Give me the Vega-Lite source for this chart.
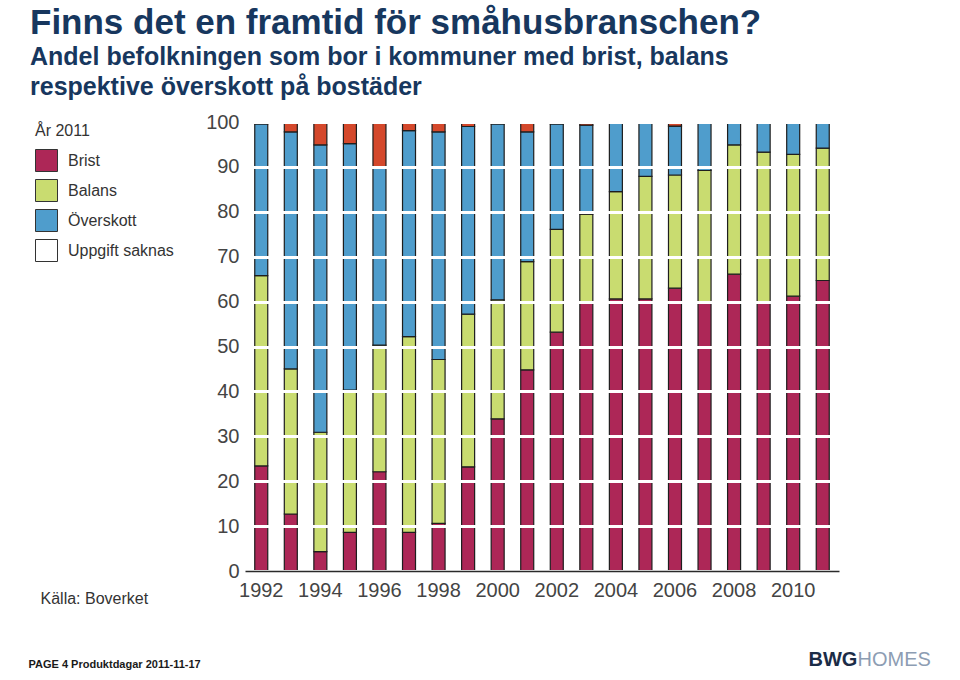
{
  "$schema": "https://vega.github.io/schema/vega-lite/v6.json",
  "autosize": {"type": "none"},
  "width": 594,
  "height": 449,
  "padding": {"left": 245, "top": 122, "right": 121, "bottom": 109},
  "background": "white",
  "config": {
    "font": "Liberation Sans",
    "view": {"stroke": null}
  },
  "title": {
    "text": "Finns det en framtid för småhusbranschen?",
    "subtitle": ["Andel befolkningen som bor i kommuner med brist, balans", "respektive överskott på bostäder"],
    "anchor": "start",
    "frame": "group",
    "dx": -215,
    "offset": 12,
    "font": "Liberation Sans",
    "fontSize": 35,
    "fontWeight": "bold",
    "color": "#17375e",
    "subtitleFont": "Liberation Sans",
    "subtitleFontSize": 25,
    "subtitleFontWeight": "bold",
    "subtitleColor": "#17375e",
    "subtitleLineHeight": 30,
    "subtitlePadding": 4
  },
  "data": {
    "values": [
      {"year": 1992, "kat": "Brist", "v": 23.4}, {"year": 1992, "kat": "Balans", "v": 42.4}, {"year": 1992, "kat": "Överskott", "v": 33.8}, {"year": 1992, "kat": "Övrigt", "v": 0.4},
      {"year": 1993, "kat": "Brist", "v": 12.7}, {"year": 1993, "kat": "Balans", "v": 32.3}, {"year": 1993, "kat": "Överskott", "v": 52.8}, {"year": 1993, "kat": "Övrigt", "v": 2.2},
      {"year": 1994, "kat": "Brist", "v": 4.3}, {"year": 1994, "kat": "Balans", "v": 26.6}, {"year": 1994, "kat": "Överskott", "v": 64.0}, {"year": 1994, "kat": "Övrigt", "v": 5.1},
      {"year": 1995, "kat": "Brist", "v": 8.6}, {"year": 1995, "kat": "Balans", "v": 31.7}, {"year": 1995, "kat": "Överskott", "v": 54.9}, {"year": 1995, "kat": "Övrigt", "v": 4.8},
      {"year": 1996, "kat": "Brist", "v": 22.1}, {"year": 1996, "kat": "Balans", "v": 28.2}, {"year": 1996, "kat": "Överskott", "v": 39.4}, {"year": 1996, "kat": "Övrigt", "v": 10.3},
      {"year": 1997, "kat": "Brist", "v": 8.6}, {"year": 1997, "kat": "Balans", "v": 43.6}, {"year": 1997, "kat": "Överskott", "v": 45.9}, {"year": 1997, "kat": "Övrigt", "v": 1.9},
      {"year": 1998, "kat": "Brist", "v": 10.6}, {"year": 1998, "kat": "Balans", "v": 36.5}, {"year": 1998, "kat": "Överskott", "v": 50.7}, {"year": 1998, "kat": "Övrigt", "v": 2.2},
      {"year": 1999, "kat": "Brist", "v": 23.2}, {"year": 1999, "kat": "Balans", "v": 34.0}, {"year": 1999, "kat": "Överskott", "v": 41.8}, {"year": 1999, "kat": "Övrigt", "v": 1.0},
      {"year": 2000, "kat": "Brist", "v": 33.9}, {"year": 2000, "kat": "Balans", "v": 26.5}, {"year": 2000, "kat": "Överskott", "v": 39.2}, {"year": 2000, "kat": "Övrigt", "v": 0.4},
      {"year": 2001, "kat": "Brist", "v": 44.8}, {"year": 2001, "kat": "Balans", "v": 24.1}, {"year": 2001, "kat": "Överskott", "v": 28.9}, {"year": 2001, "kat": "Övrigt", "v": 2.2},
      {"year": 2002, "kat": "Brist", "v": 53.2}, {"year": 2002, "kat": "Balans", "v": 22.9}, {"year": 2002, "kat": "Överskott", "v": 23.5}, {"year": 2002, "kat": "Övrigt", "v": 0.4},
      {"year": 2003, "kat": "Brist", "v": 59.8}, {"year": 2003, "kat": "Balans", "v": 19.7}, {"year": 2003, "kat": "Överskott", "v": 19.8}, {"year": 2003, "kat": "Övrigt", "v": 0.7},
      {"year": 2004, "kat": "Brist", "v": 60.6}, {"year": 2004, "kat": "Balans", "v": 23.9}, {"year": 2004, "kat": "Överskott", "v": 15.5},
      {"year": 2005, "kat": "Brist", "v": 60.6}, {"year": 2005, "kat": "Balans", "v": 27.3}, {"year": 2005, "kat": "Överskott", "v": 12.1},
      {"year": 2006, "kat": "Brist", "v": 63.0}, {"year": 2006, "kat": "Balans", "v": 25.2}, {"year": 2006, "kat": "Överskott", "v": 10.9}, {"year": 2006, "kat": "Övrigt", "v": 0.9},
      {"year": 2007, "kat": "Brist", "v": 59.9}, {"year": 2007, "kat": "Balans", "v": 29.3}, {"year": 2007, "kat": "Överskott", "v": 10.8},
      {"year": 2008, "kat": "Brist", "v": 66.1}, {"year": 2008, "kat": "Balans", "v": 28.8}, {"year": 2008, "kat": "Överskott", "v": 5.1},
      {"year": 2009, "kat": "Brist", "v": 60.0}, {"year": 2009, "kat": "Balans", "v": 33.3}, {"year": 2009, "kat": "Överskott", "v": 6.7},
      {"year": 2010, "kat": "Brist", "v": 61.2}, {"year": 2010, "kat": "Balans", "v": 31.6}, {"year": 2010, "kat": "Överskott", "v": 7.2},
      {"year": 2011, "kat": "Brist", "v": 64.7}, {"year": 2011, "kat": "Balans", "v": 29.5}, {"year": 2011, "kat": "Överskott", "v": 5.8}
    ]
  },
  "layer": [
    {
      "transform": [
        {"calculate": "indexof(['Brist','Balans','Överskott','Uppgift saknas','Övrigt'], datum.kat)", "as": "ord"}
      ],
      "mark": {"type": "bar", "stroke": "#1e1e1e", "strokeWidth": 1.2},
      "encoding": {
        "x": {
          "field": "year",
          "type": "ordinal",
          "scale": {"paddingInner": 0.56, "paddingOuter": 0.33},
          "axis": {
            "values": [1992, 1994, 1996, 1998, 2000, 2002, 2004, 2006, 2008, 2010],
            "labelAngle": 0,
            "labelFontSize": 20,
            "labelColor": "#444444",
            "labelPadding": 9,
            "ticks": false,
            "domainColor": "#2a2a2a",
            "domainWidth": 1.6,
            "zindex": 2,
            "title": "Källa: Boverket",
            "titleFontSize": 16,
            "titleFontWeight": "normal",
            "titleColor": "#333333",
            "titleAnchor": "start",
            "titleAlign": "left",
            "titleBaseline": "middle",
            "titleX": -205,
            "titleY": 27
          }
        },
        "y": {
          "field": "v",
          "type": "quantitative",
          "stack": "zero",
          "scale": {"domain": [0, 100], "nice": false},
          "axis": {
            "values": [0, 10, 20, 30, 40, 50, 60, 70, 80, 90, 100],
            "labelFontSize": 20,
            "labelColor": "#444444",
            "labelPadding": 6,
            "ticks": false,
            "domain": false,
            "grid": true,
            "gridColor": "white",
            "gridWidth": 3,
            "zindex": 1,
            "title": "PAGE 4  Produktdagar 2011-11-17",
            "titleAngle": 0,
            "titleFontSize": 11,
            "titleFontWeight": "bold",
            "titleColor": "#1a1a1a",
            "titleAlign": "left",
            "titleBaseline": "middle",
            "titleAnchor": "start",
            "titleX": -217,
            "titleY": 542
          }
        },
        "color": {
          "field": "kat",
          "type": "nominal",
          "scale": {
            "domain": ["Brist", "Balans", "Överskott", "Uppgift saknas", "Övrigt"],
            "range": ["#ad2757", "#c9dc70", "#4f9dcc", "#ffffff", "#d4482b"]
          },
          "legend": {
            "values": ["Brist", "Balans", "Överskott", "Uppgift saknas"],
            "title": "År 2011",
            "orient": "none",
            "legendX": -210,
            "legendY": 1,
            "titleFontSize": 16,
            "titleFontWeight": "normal",
            "titleColor": "#333333",
            "titlePadding": 10,
            "labelFontSize": 16,
            "labelColor": "#333333",
            "labelOffset": 10,
            "symbolType": "square",
            "symbolSize": 484,
            "symbolStrokeColor": "#333333",
            "symbolStrokeWidth": 1,
            "symbolOpacity": 1,
            "rowPadding": 3
          }
        },
        "order": {"field": "ord", "type": "quantitative", "sort": "ascending"}
      }
    },
    {
      "mark": {"type": "rule", "opacity": 0},
      "encoding": {
        "y": {
          "datum": 0,
          "type": "quantitative",
          "axis": {
            "orient": "right",
            "domain": false, "ticks": false, "labels": false, "grid": false,
            "title": "BWG",
            "titleAngle": 0,
            "titleFontSize": 20,
            "titleFontWeight": "bold",
            "titleColor": "#1b2c47",
            "titleAlign": "left",
            "titleBaseline": "middle",
            "titleAnchor": "start",
            "titleX": -31,
            "titleY": 537
          }
        }
      }
    },
    {
      "mark": {"type": "rule", "opacity": 0},
      "encoding": {
        "y": {
          "datum": 0,
          "type": "quantitative",
          "axis": {
            "orient": "right",
            "domain": false, "ticks": false, "labels": false, "grid": false,
            "title": "HOMES",
            "titleAngle": 0,
            "titleFontSize": 20,
            "titleFontWeight": "normal",
            "titleColor": "#8d9db3",
            "titleAlign": "left",
            "titleBaseline": "middle",
            "titleAnchor": "start",
            "titleX": 18,
            "titleY": 537
          }
        }
      }
    }
  ],
  "resolve": {"scale": {"y": "independent"}}
}
